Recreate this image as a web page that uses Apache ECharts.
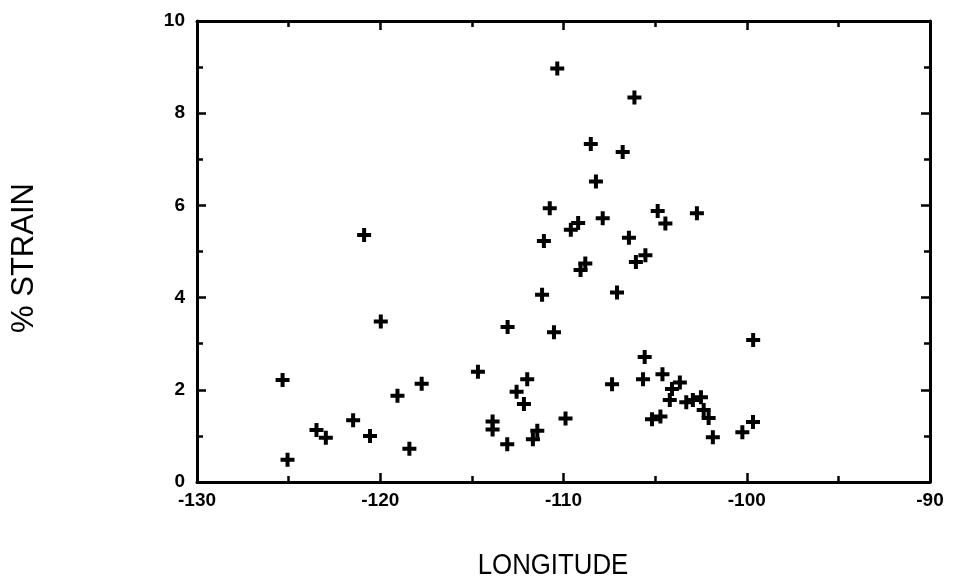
<!DOCTYPE html>
<html>
<head>
<meta charset="utf-8">
<script src="https://cdn.jsdelivr.net/npm/echarts@6/dist/echarts.min.js"></script>
<style>html,body{margin:0;padding:0;background:#fff}#c{width:954px;height:587px}</style>
</head>
<body>
<div id="c"></div>
<script>
var longitude = [-125.33,-125.06,-123.48,-122.97,-121.48,-120.56,-120.88,-119.97,-119.06,-118.41,-117.74,
  -114.67,-113.87,-113.87,-113.05,-113.07,-112.56,-112.16,-111.98,-111.67,-111.43,-111.17,-111.07,-110.75,
  -110.52,-110.34,-109.89,-109.6,-109.2,-109.07,-108.81,-108.51,-108.23,-107.86,-107.35,-107.08,-106.77,
  -106.43,-106.13,-106.05,-105.57,-105.53,-105.66,-105.17,-104.86,-104.71,-104.60,-104.44,-104.20,-104.08,
  -103.65,-103.30,-102.94,-102.72,-102.50,-102.35,-102.08,-101.85,-100.24,-99.66,-99.65];
var strain = [2.21,0.48,1.13,0.96,1.34,1.00,5.36,3.48,1.87,0.72,2.13,
  2.39,1.31,1.14,3.36,0.82,1.96,1.69,2.23,0.93,1.11,4.06,5.23,5.94,
  3.25,8.97,1.38,5.47,5.62,4.60,4.74,7.33,6.52,5.72,2.12,4.11,7.16,
  5.30,8.34,4.77,2.71,4.92,2.23,1.36,5.88,1.42,2.34,5.61,1.78,2.02,
  2.16,1.73,1.78,5.83,1.84,1.56,1.39,0.97,1.08,1.30,3.08];
var xTicks = [-130,-120,-110,-100,-90];
var yTicks = [0,2,4,6,8,10];
var xTitle = 'LONGITUDE';
var yTitle = '% STRAIN';

var pts = longitude.map(function(v,i){return [v, strain[i]];});
var chart = echarts.init(document.getElementById('c'), null, {renderer:'canvas'});
var lineStyle = {color:'#000', width:3};
var labelFont = {color:'#000', fontWeight:'bold', fontSize:19, fontFamily:'Liberation Sans, Arial, sans-serif'};
function xAx(pos, show){
  return {type:'value', position:pos, min:xTicks[0], max:xTicks[xTicks.length-1], interval:10,
    axisLine:{show:true, onZero:false, lineStyle:lineStyle},
    axisTick:{show:true, inside:true, length:9, lineStyle:{color:'#000', width:2.5}},
    minorTick:{show:true, splitNumber:2, length:6, lineStyle:{color:'#000', width:2.5}},
    splitLine:{show:false},
    axisLabel:Object.assign({show:show, margin:9}, labelFont)
  };
}
function yAx(pos, show){
  return {type:'value', position:pos, min:yTicks[0], max:yTicks[yTicks.length-1], interval:2,
    axisLine:{show:true, onZero:false, lineStyle:lineStyle},
    axisTick:{show:true, inside:true, length:9, lineStyle:{color:'#000', width:2.5}},
    minorTick:{show:true, splitNumber:2, length:6, lineStyle:{color:'#000', width:2.5}},
    splitLine:{show:false},
    axisLabel:Object.assign({show:show, margin:12}, labelFont)
  };
}
chart.setOption({
  animation:false,
  backgroundColor:'#fff',
  grid:{left:197, right:24, top:21, bottom:105},
  xAxis:[xAx('bottom', true), xAx('top', false)],
  yAxis:[yAx('left', true), yAx('right', false)],
  graphic:[
    {type:'text', x:553, y:566, scaleX:0.86,
     style:{text:xTitle, fill:'#000', font:'30px "Liberation Sans", Arial, sans-serif', textAlign:'center', textVerticalAlign:'middle'}},
    {type:'text', x:24, y:258, rotation:Math.PI/2,
     style:{text:yTitle, fill:'#000', font:'31px "Liberation Sans", Arial, sans-serif', textAlign:'center', textVerticalAlign:'middle'}}
  ],
  series:[{
    type:'scatter', data:pts, xAxisIndex:0, yAxisIndex:0,
    symbol:'path://M5,0H9V5H14V9H9V14H5V9H0V5H5Z', symbolSize:14,
    itemStyle:{color:'#000', opacity:1}
  }]
});
</script>
</body>
</html>
